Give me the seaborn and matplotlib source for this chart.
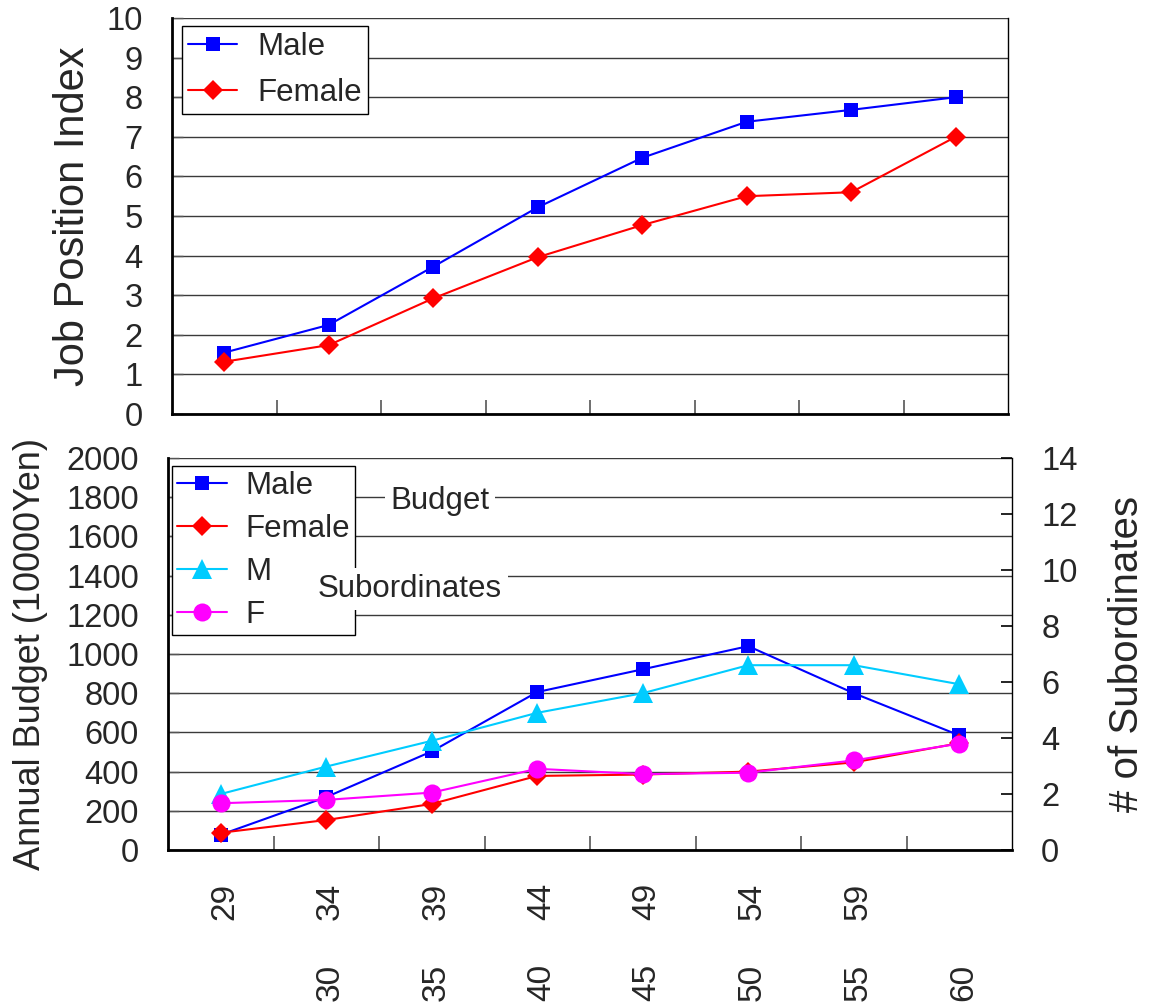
import matplotlib
matplotlib.use("Agg")
import matplotlib.pyplot as plt
import seaborn as sns
from matplotlib.transforms import blended_transform_factory

# Age bands: lower bound / upper bound of each group
age_start = ["", "30", "35", "40", "45", "50", "55", "60"]
age_end = ["29", "34", "39", "44", "49", "54", "59", ""]

# Job position index by age band
job_male = [1.55, 2.25, 3.72, 5.22, 6.47, 7.38, 7.68, 8.0]
job_female = [1.32, 1.74, 2.92, 3.96, 4.77, 5.50, 5.60, 7.0]

# Annual budget (10000 Yen)
budget_male = [78, 270, 503, 806, 922, 1040, 800, 585]
budget_female = [88, 153, 235, 378, 385, 400, 447, 545]

# Number of subordinates
subs_male = [2.0, 2.98, 3.9, 4.9, 5.6, 6.6, 6.6, 5.92]
subs_female = [1.67, 1.79, 2.05, 2.9, 2.71, 2.76, 3.2, 3.8]

sns.set_style("white")
plt.rcParams["font.family"] = ["Liberation Sans", "DejaVu Sans"]

BLUE = "#0000FF"
RED = "#FF0000"
CYAN = "#00CCFF"
MAGENTA = "#FF00FF"
GRID = "#3a3a3a"
FS_TICK = 23.5
FS_LEG = 22.5

pos = list(range(len(age_end)))

fig = plt.figure(figsize=(11.5, 10.06), dpi=100)
ax_top = fig.add_axes([172 / 1150, 1 - 414 / 1006, 836 / 1150, 396 / 1006])
ax_bot = fig.add_axes([168 / 1150, 1 - 850 / 1006, 844 / 1150, 392 / 1006])


def style_axes(ax):
    ax.set_xlim(-0.5, len(pos) - 0.5)
    ax.set_xticks([p + 0.5 for p in pos[:-1]])
    ax.set_xticklabels([])
    ax.tick_params(axis="x", direction="in", length=10, width=1.2,
                   color="#555555", bottom=True)
    ax.tick_params(axis="y", direction="in", length=8, width=1,
                   color="#555555", left=True, pad=21, labelsize=FS_TICK)
    ax.grid(axis="y", color=GRID, linewidth=1.0)
    ax.grid(axis="x", visible=False)
    ax.spines["top"].set_visible(False)
    for s in ("left", "bottom"):
        ax.spines[s].set_linewidth(2.0)
        ax.spines[s].set_color("black")
    ax.spines["right"].set_linewidth(1.0)
    ax.spines["right"].set_color("black")


# ---- Upper panel: job position index ----
line_kw = dict(linewidth=1.5, markeredgewidth=0)
sns.lineplot(x=pos, y=job_male, ax=ax_top, color=BLUE, marker="s",
             markersize=10, label="Male", legend=False, **line_kw)
sns.lineplot(x=pos, y=job_female, ax=ax_top, color=RED, marker="D",
             markersize=10, label="Female", legend=False, **line_kw)
style_axes(ax_top)
ax_top.set_ylim(0, 10)
ax_top.set_yticks(range(0, 11))
ax_top.set_ylabel("Job Position Index", fontsize=30, labelpad=10)
ax_top.set_xlabel("")
h, l = ax_top.get_legend_handles_labels()
leg = ax_top.legend(h, l, loc="upper left", bbox_to_anchor=(0.012, 0.98),
                    borderaxespad=0, fontsize=FS_LEG, frameon=True,
                    fancybox=False, edgecolor="black", facecolor="white",
                    framealpha=1, handlelength=1.55, handletextpad=0.65,
                    labelspacing=0.5, borderpad=0.2)
leg.get_frame().set_linewidth(1.0)

# ---- Lower panel: budget (left) and subordinates (right) ----
sns.lineplot(x=pos, y=budget_male, ax=ax_bot, color=BLUE, marker="s",
             markersize=10, label="Male", legend=False, **line_kw)
sns.lineplot(x=pos, y=budget_female, ax=ax_bot, color=RED, marker="D",
             markersize=10, label="Female", legend=False, **line_kw)
style_axes(ax_bot)
ax_bot.set_ylim(0, 2000)
ax_bot.set_yticks(range(0, 2001, 200))
ax_bot.set_ylabel("Annual Budget (10000Yen)", fontsize=26, labelpad=13)
ax_bot.set_xlabel("")

ax_sub = ax_bot.twinx()
sns.lineplot(x=pos, y=subs_male, ax=ax_sub, color=CYAN, marker="^",
             markersize=14, label="M", legend=False, **line_kw)
sns.lineplot(x=pos, y=subs_female, ax=ax_sub, color=MAGENTA, marker="o",
             markersize=13, label="F", legend=False, **line_kw)
ax_sub.set_ylim(0, 14)
ax_sub.set_yticks(range(0, 15, 2))
ax_sub.tick_params(axis="y", direction="in", length=8, width=1.2,
                   color="black", right=True, pad=21, labelsize=FS_TICK)
ax_sub.grid(False)
for s in ax_sub.spines.values():
    s.set_visible(False)
ax_sub.set_ylabel("# of Subordinates", fontsize=29, labelpad=22)

h1, l1 = ax_bot.get_legend_handles_labels()
h2, l2 = ax_sub.get_legend_handles_labels()
leg2 = ax_sub.legend(h1 + h2, l1 + l2, loc="upper left",
                     bbox_to_anchor=(4 / 844, 1 - 8 / 392), borderaxespad=0,
                     fontsize=FS_LEG, frameon=True, fancybox=False,
                     edgecolor="black", facecolor="white", framealpha=1,
                     handlelength=1.6, handletextpad=0.6, labelspacing=0.42,
                     borderpad=0.15)
leg2.get_frame().set_linewidth(1.0)
leg2.set_zorder(5)

fig.text(440 / 1150, 1 - 501 / 1006, "Budget", fontsize=FS_LEG, ha="center",
         va="center", zorder=10,
         bbox=dict(facecolor="white", edgecolor="none", pad=4))
fig.text(410 / 1150, 1 - 589 / 1006, "Subordinates", fontsize=FS_LEG,
         ha="center", va="center", zorder=10,
         bbox=dict(facecolor="white", edgecolor="none", pad=4))

# Two-row rotated age-band labels beneath the lower panel
tr = blended_transform_factory(ax_bot.transData, ax_bot.transAxes)
for p, top_lab, low_lab in zip(pos, age_end, age_start):
    if top_lab:
        ax_bot.text(p + 0.04, -0.13, top_lab, transform=tr, rotation=90,
                    ha="center", va="center", fontsize=24, clip_on=False)
    if low_lab:
        ax_bot.text(p + 0.04, -0.337, low_lab, transform=tr, rotation=90,
                    ha="center", va="center", fontsize=24, clip_on=False)

fig.savefig("out.png", dpi=100, facecolor="white")
